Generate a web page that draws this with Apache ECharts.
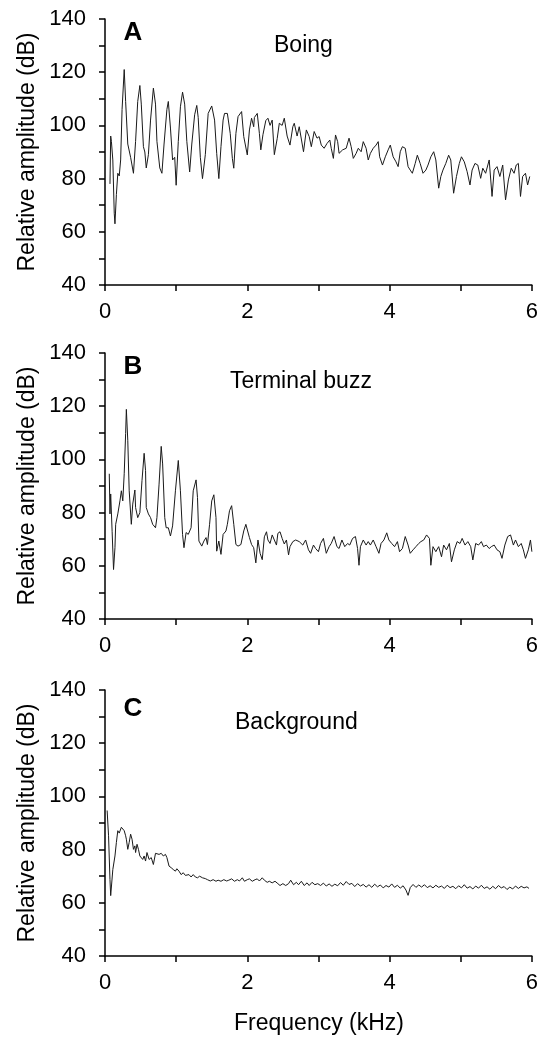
<!DOCTYPE html>
<html><head><meta charset="utf-8">
<script src="https://cdn.jsdelivr.net/npm/echarts@6/dist/echarts.min.js"></script>
<style>html,body{margin:0;padding:0;background:#fff}#c{width:541px;height:1037px}</style>
</head><body><div id="c"></div>
<script>
// ---- Data ----
const freqA = [0.07,0.08,0.09,0.11,0.13,0.14,0.16,0.18,0.20,0.22,0.24,0.27,0.29,0.32,0.36,0.40,0.43,0.46,0.49,0.51,0.54,0.56,0.58,0.61,0.64,0.68,0.71,0.73,0.77,0.80,0.83,0.87,0.89,0.92,0.95,0.98,1.00,1.03,1.06,1.09,1.12,1.15,1.19,1.22,1.26,1.29,1.31,1.34,1.37,1.41,1.45,1.50,1.54,1.57,1.60,1.63,1.66,1.68,1.72,1.76,1.79,1.81,1.84,1.87,1.92,1.95,2.00,2.03,2.06,2.09,2.10,2.14,2.17,2.19,2.22,2.26,2.29,2.32,2.35,2.38,2.42,2.45,2.49,2.52,2.56,2.60,2.64,2.66,2.70,2.73,2.79,2.83,2.87,2.90,2.94,2.98,3.01,3.04,3.08,3.12,3.16,3.18,3.21,3.24,3.27,3.29,3.34,3.39,3.43,3.46,3.49,3.53,3.56,3.60,3.63,3.67,3.70,3.73,3.77,3.81,3.84,3.86,3.90,3.94,3.98,4.01,4.05,4.09,4.12,4.15,4.18,4.22,4.26,4.29,4.32,4.36,4.39,4.43,4.47,4.51,4.54,4.58,4.62,4.65,4.69,4.72,4.75,4.79,4.83,4.86,4.90,4.94,4.98,5.01,5.05,5.09,5.13,5.16,5.20,5.24,5.28,5.31,5.35,5.40,5.44,5.47,5.51,5.55,5.59,5.63,5.67,5.71,5.75,5.78,5.81,5.84,5.87,5.91,5.94,5.97];
const ampA = [78,96,94,87,67,63,74,82,81,87,106,121,109,93,88,82,94,109,115,108,92,90,84,89,102,114,108,94,84,82,93,106,109,99,87,88,77.5,94,107,112.5,108,94,82.5,93,104,107.5,103,88,80,89,104.5,107.3,102,89.5,80,92,102,104.5,104.5,97,87.6,83.9,97,103.3,105.2,95.8,88.9,98.3,102.7,99.5,103,104.5,97,90.8,96.5,101.8,102.7,100,102,89,95,100.8,100,102.7,96,92.6,99.5,100.8,96,99.5,90.1,98.3,95.8,92,97.7,95.2,95.8,92.6,91.4,93.2,94.5,91.4,87.6,96.4,93.9,89.5,90.8,91.4,95.2,92,87.6,89.5,91.4,90.1,93.9,91.4,87,89.5,91.4,92.6,93.9,88.2,85.1,88.2,90.8,92.6,88.2,86.3,84.5,90.1,92,91.4,84.5,83.2,82,85.7,88.8,85.7,82,83.2,85.1,88.2,90.1,87,76.4,80.8,83.2,85.7,88.8,87,74.5,80.8,85.7,88.2,86.3,82.6,77.6,83.2,85.7,85.1,80.1,83.9,82,87,73.3,83.2,84.5,80.8,85.1,72,79.5,83.9,82,85.1,85.7,73.3,80.8,82,77.6,80.8];

const freqB = [0.06,0.07,0.08,0.10,0.12,0.14,0.15,0.18,0.21,0.23,0.25,0.27,0.29,0.30,0.32,0.34,0.37,0.39,0.42,0.43,0.46,0.49,0.52,0.55,0.57,0.58,0.61,0.64,0.67,0.71,0.73,0.76,0.79,0.81,0.84,0.86,0.89,0.92,0.95,0.99,1.03,1.06,1.09,1.11,1.14,1.17,1.21,1.24,1.28,1.30,1.32,1.36,1.39,1.42,1.44,1.47,1.50,1.53,1.56,1.57,1.60,1.63,1.66,1.70,1.72,1.75,1.78,1.81,1.84,1.87,1.91,1.95,1.98,2.00,2.03,2.06,2.09,2.12,2.15,2.18,2.21,2.24,2.27,2.29,2.32,2.35,2.38,2.41,2.43,2.46,2.49,2.52,2.55,2.58,2.60,2.64,2.68,2.73,2.78,2.82,2.86,2.89,2.93,2.96,3.00,3.03,3.07,3.11,3.15,3.18,3.22,3.26,3.29,3.33,3.37,3.41,3.44,3.48,3.52,3.55,3.57,3.59,3.63,3.67,3.70,3.73,3.77,3.81,3.85,3.88,3.92,3.96,3.99,4.03,4.07,4.11,4.14,4.18,4.22,4.26,4.29,4.33,4.37,4.41,4.44,4.48,4.52,4.56,4.58,4.61,4.65,4.69,4.73,4.76,4.80,4.84,4.87,4.91,4.95,4.99,5.02,5.06,5.10,5.14,5.17,5.21,5.25,5.29,5.32,5.36,5.40,5.43,5.47,5.51,5.55,5.58,5.62,5.66,5.70,5.74,5.77,5.81,5.85,5.88,5.91,5.95,5.98,6.00];
const ampB = [94.6,79.5,87,73,58.6,66.8,75.6,79.5,84.4,88.2,84.4,94.6,109.7,118.8,107.2,88.2,75.6,83.2,88.5,81.9,78.1,80,92,102.3,95.8,81.9,79.5,78.1,75.6,74.3,78.1,90.7,104.9,98.3,78.1,74.3,74.3,71.2,75,88.2,99.6,88.2,71.8,66.8,72.5,71.8,74.3,88.2,92.3,85.7,69.3,67.4,69.3,70.6,68,75.6,84.4,86.7,78.1,65.5,69.3,64.3,71.8,73.1,75.6,80.7,82.6,75.6,68,67.4,68,73.1,75.6,75,70.6,68,66.8,61.1,69.7,64.7,62.3,70.9,72.8,69.7,68.4,71.6,69.7,67.8,72.2,72.8,70.3,68.2,69.7,64.1,67.2,69.1,69.7,69.1,67.8,69.7,66,64.7,67.8,66.5,65.3,68.4,70.3,64.7,67.2,68.4,71,67.2,66.5,69.7,67.2,68.4,67.8,70.3,71,66.5,60.2,67.2,69.7,67.8,69.1,67.8,69.7,67.2,64.7,68.4,69.7,72.4,69.7,68.4,67.2,69.1,65.3,66.5,71,67.8,64.7,66,67.2,68.4,69.1,69.7,71.6,70.3,60.2,67.2,65.3,67.2,63.4,67.8,66,68.4,61.5,66,69.1,68.4,70.3,67.8,69.1,67.2,62.2,68.4,67.8,69.1,67.2,67.8,66.5,67.2,67.8,66,65.3,62.8,67.8,71,71.6,67.8,69.7,67.2,68.4,66,62.8,66,69.7,65.3];

const freqC = [0.03,0.05,0.07,0.08,0.11,0.14,0.16,0.18,0.20,0.23,0.25,0.27,0.29,0.30,0.32,0.34,0.36,0.38,0.40,0.42,0.43,0.45,0.47,0.49,0.51,0.53,0.55,0.57,0.59,0.60,0.62,0.65,0.68,0.71,0.73,0.76,0.79,0.82,0.85,0.87,0.90,0.93,0.96,0.99,1.01,1.04,1.07,1.10,1.13,1.15,1.18,1.21,1.24,1.27,1.30,1.33,1.37,1.41,1.44,1.48,1.52,1.56,1.59,1.63,1.67,1.71,1.74,1.78,1.82,1.86,1.89,1.93,1.96,2.00,2.03,2.07,2.11,2.14,2.17,2.21,2.24,2.28,2.31,2.35,2.39,2.43,2.46,2.50,2.54,2.58,2.61,2.65,2.69,2.72,2.76,2.80,2.84,2.87,2.91,2.95,2.99,3.03,3.07,3.11,3.15,3.19,3.23,3.27,3.31,3.35,3.39,3.43,3.47,3.51,3.55,3.59,3.63,3.67,3.71,3.75,3.79,3.83,3.87,3.91,3.95,3.99,4.03,4.07,4.11,4.15,4.19,4.23,4.26,4.29,4.33,4.37,4.41,4.45,4.49,4.53,4.57,4.61,4.65,4.69,4.73,4.77,4.81,4.85,4.89,4.93,4.97,5.01,5.05,5.09,5.13,5.17,5.21,5.25,5.29,5.33,5.37,5.41,5.45,5.49,5.53,5.57,5.61,5.65,5.69,5.73,5.77,5.81,5.85,5.89,5.93,5.96];
const ampC = [94.7,85.2,68.7,62.7,72.5,77.6,82.7,87.1,86.2,88.4,89,87.1,85.2,83.9,80.1,82.7,85.8,83.9,80.1,81.4,78.9,82,80.1,77.6,78.2,76.3,77.6,75.7,78.9,78.2,76.3,77,74.4,78.6,78.9,78.2,78.6,77.6,78.2,77,73.8,73.2,72.5,71.9,72.8,71.9,70.6,71.3,70.3,69.7,70.6,69.7,70.6,69.7,69.4,70,69.4,69.1,68.7,68.2,68.7,68.1,68.5,68.1,68.7,68.2,68.5,69,68.1,68.7,68.2,69.4,68.1,68.7,69,68.1,68.7,69,68.2,69.4,68.5,67.7,68.1,67.5,68.1,67.2,66.5,67.2,66.5,67.2,68.5,66.8,67.7,66.8,68.1,66.5,67.5,66.5,67.7,66.8,67.2,66.5,67.4,66.3,67.1,66.2,67.0,66.4,67.6,66.6,68.0,66.9,67.3,66.1,67.2,66.3,66.9,65.9,66.8,65.8,67.0,66.0,66.7,65.6,66.5,65.9,67.1,65.8,66.6,65.5,66.4,64.8,62.8,65.7,66.9,65.8,66.7,65.9,66.8,65.7,66.4,65.6,66.6,65.8,66.3,65.4,66.6,65.7,66.2,65.3,66.4,65.6,66.8,65.5,66.1,65.2,66.3,65.5,66.6,65.4,66.0,65.1,66.2,65.3,66.5,65.6,66.1,65.0,65.9,65.2,66.3,65.4,66.2,65.6,66.0,65.4];

const yTickLabels = [40, 60, 80, 100, 120, 140];
const xTickLabels = [0, 2, 4, 6];
const panelLetters = ['A', 'B', 'C'];
const panelTitles = ['Boing', 'Terminal buzz', 'Background'];
const yTitle = 'Relative amplitude (dB)';
const xTitle = 'Frequency (kHz)';

// ---- Chart ----
const FONT = '"Liberation Sans", Arial, sans-serif';
const chart = echarts.init(document.getElementById('c'), null, {renderer: 'canvas'});
const tops = [19, 353, 690];
const H = 266, LEFT = 105, W = 428;
const series = [[freqA, ampA], [freqB, ampB], [freqC, ampC]];
const axisLineStyle = {color: '#000', width: 1.5};

const grids = [], xAxes = [], yAxes = [], ser = [], graphics = [];
const titleX = [274, 230, 235];
const titleY = [46, 382, 723];
const letterY = [32.5, 366.5, 708.5];
tops.forEach((t, i) => {
  grids.push({left: LEFT, top: t, width: W, height: H});
  xAxes.push({
    type: 'value', gridIndex: i, min: 0, max: 6, interval: 2,
    axisLine: {show: true, onZero: false, lineStyle: axisLineStyle},
    axisTick: {show: true, inside: false, length: 6, lineStyle: axisLineStyle},
    minorTick: {show: true, splitNumber: 2, length: 6, lineStyle: axisLineStyle},
    splitLine: {show: false}, minorSplitLine: {show: false},
    axisLabel: {show: true, fontSize: 22, color: '#000', fontFamily: FONT, margin: 16,
      formatter: v => xTickLabels.includes(v) ? String(v) : ''}
  });
  yAxes.push({
    type: 'value', gridIndex: i, min: 40, max: 140, interval: 20,
    axisLine: {show: true, onZero: false, lineStyle: axisLineStyle},
    axisTick: {show: true, inside: false, length: 6, lineStyle: axisLineStyle},
    minorTick: {show: true, splitNumber: 2, length: 6, lineStyle: axisLineStyle},
    splitLine: {show: false}, minorSplitLine: {show: false},
    axisLabel: {show: true, fontSize: 22, color: '#000', fontFamily: FONT, margin: 19,
      formatter: v => yTickLabels.includes(v) ? String(v) : ''}
  });
  const [fx, fy] = series[i];
  ser.push({
    type: 'line', xAxisIndex: i, yAxisIndex: i,
    data: fx.map((x, k) => [x, fy[k]]),
    showSymbol: false, symbol: 'none',
    lineStyle: {color: '#1a1a1a', width: 1},
    animation: false, silent: true
  });
  graphics.push({
    type: 'text', x: 133, y: letterY[i],
    style: {text: panelLetters[i], font: 'bold 26px ' + FONT, fill: '#000', textAlign: 'center', textVerticalAlign: 'middle'}
  });
  graphics.push({
    type: 'text', x: titleX[i], y: titleY[i],
    style: {text: panelTitles[i], font: '23px ' + FONT, fill: '#000', textAlign: 'left', textVerticalAlign: 'middle'}
  });
  graphics.push({
    type: 'text', x: 27.5, y: t + H / 2, rotation: Math.PI / 2,
    style: {text: yTitle, font: '23px ' + FONT, fill: '#000', textAlign: 'center', textVerticalAlign: 'middle'}
  });
});
graphics.push({
  type: 'text', x: LEFT + W / 2, y: 1024,
  style: {text: xTitle, font: '23px ' + FONT, fill: '#000', textAlign: 'center', textVerticalAlign: 'middle'}
});

chart.setOption({
  animation: false,
  backgroundColor: '#fff',
  grid: grids, xAxis: xAxes, yAxis: yAxes, series: ser,
  graphic: graphics
});
</script></body></html>
